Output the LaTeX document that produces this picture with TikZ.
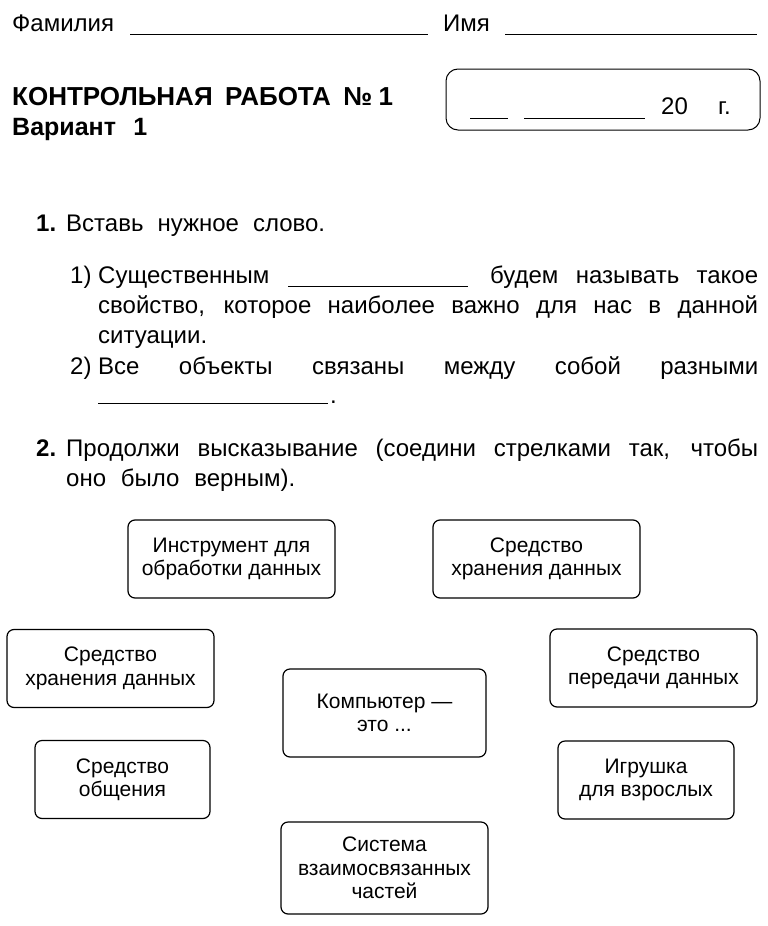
\documentclass[tikz,border=0pt]{standalone}
\usepackage{fontspec}
\setmainfont{Liberation Sans}
\usetikzlibrary{positioning}

\begin{document}
\begin{tikzpicture}[
    x=1pt, y=-1pt,
    txt/.style={anchor=base west, inner sep=0pt, font=\fontsize{24}{28}\selectfont},
    head/.style={txt, font=\fontsize{24}{28}\selectfont\bfseries},
    blank/.style={line width=0.9pt},
    block/.style={rectangle, draw, rounded corners=7pt, line width=1.2pt, minimum width=207pt, minimum height=78pt, align=center, font=\fontsize{21}{23.5}\selectfont}
]
    \useasboundingbox (0,0) rectangle (768,926);

    % header
    \node[txt] (fam) at (12,31) {Фамилия};
    \draw[blank] (130,34) -- (428,34);
    \node[txt] (imya) at (443,31) {Имя};
    \draw[blank] (505,34) -- (757,34);

    \node[head, font=\fontsize{26}{30}\selectfont\bfseries] (title) at (12,105) {\makebox[381pt][s]{КОНТРОЛЬНАЯ \ РАБОТА \ № 1}};
    \node[head, font=\fontsize{25}{30}\selectfont\bfseries] (var) at (12,135) {\makebox[135pt][s]{Вариант \ 1}};

    \draw[line width=1pt, rounded corners=12pt] (446,69) rectangle (760,130);
    \draw[blank] (470,118) -- (508,118);
    \draw[blank] (524,118) -- (645,118);
    \node[txt] (year) at (661,114) {20};
    \node[txt] (g) at (718,114) {г.};

    % task 1
    \node[head] (n1) at (36,231) {1.};
    \node[txt] (t1) at (66,231) {\makebox[259pt][s]{Вставь нужное слово.}};

    \node[txt] (q1) at (70,283) {1)};
    \node[txt] (q1a) at (98,283) {Существенным};
    \draw[blank] (288,286) -- (468,286);
    \node[txt] (q1b) at (490,283) {\makebox[268pt][s]{будем называть такое}};
    \node[txt] (q1c) at (98,313) {\makebox[660pt][s]{свойство, которое наиболее важно для нас в данной}};
    \node[txt] (q1d) at (98,343) {ситуации.};

    \node[txt] (q2) at (70,374) {2)};
    \node[txt] (q2a) at (98,374) {\makebox[660pt][s]{Все объекты связаны между собой разными}};
    \draw[blank] (98,403) -- (328,403);
    \node[txt] (dot) at (330,403) {.};

    % task 2
    \node[head] (n2) at (36,456) {2.};
    \node[txt] (t2) at (66,456) {\makebox[692pt][s]{Продолжи высказывание (соедини стрелками так, чтобы}};
    \node[txt] (t2b) at (66,486) {\makebox[229pt][s]{оно было верным).}};

    \node[block] (tool) at (231.5,559) {Инструмент для\\обработки данных};
    \node[block] (store) at (536.5,559) {Средство\\хранения данных};
    \node[block] (storeL) at (110.5,668.5) {Средство\\хранения данных};
    \node[block] (send) at (653.5,668) {Средство\\передачи данных};
    \node[block, minimum width=203pt, minimum height=88pt] (comp) at (384.5,713) {Компьютер —\\это ...};
    \node[block, minimum width=175pt] (talk) at (122.5,779.5) {Средство\\общения};
    \node[block, minimum width=176pt] (toy) at (646,780) {Игрушка\\для взрослых};
    \node[block, minimum height=92pt] (sys) at (384.5,868) {Система\\взаимосвязанных\\частей};

\end{tikzpicture}
\end{document}
